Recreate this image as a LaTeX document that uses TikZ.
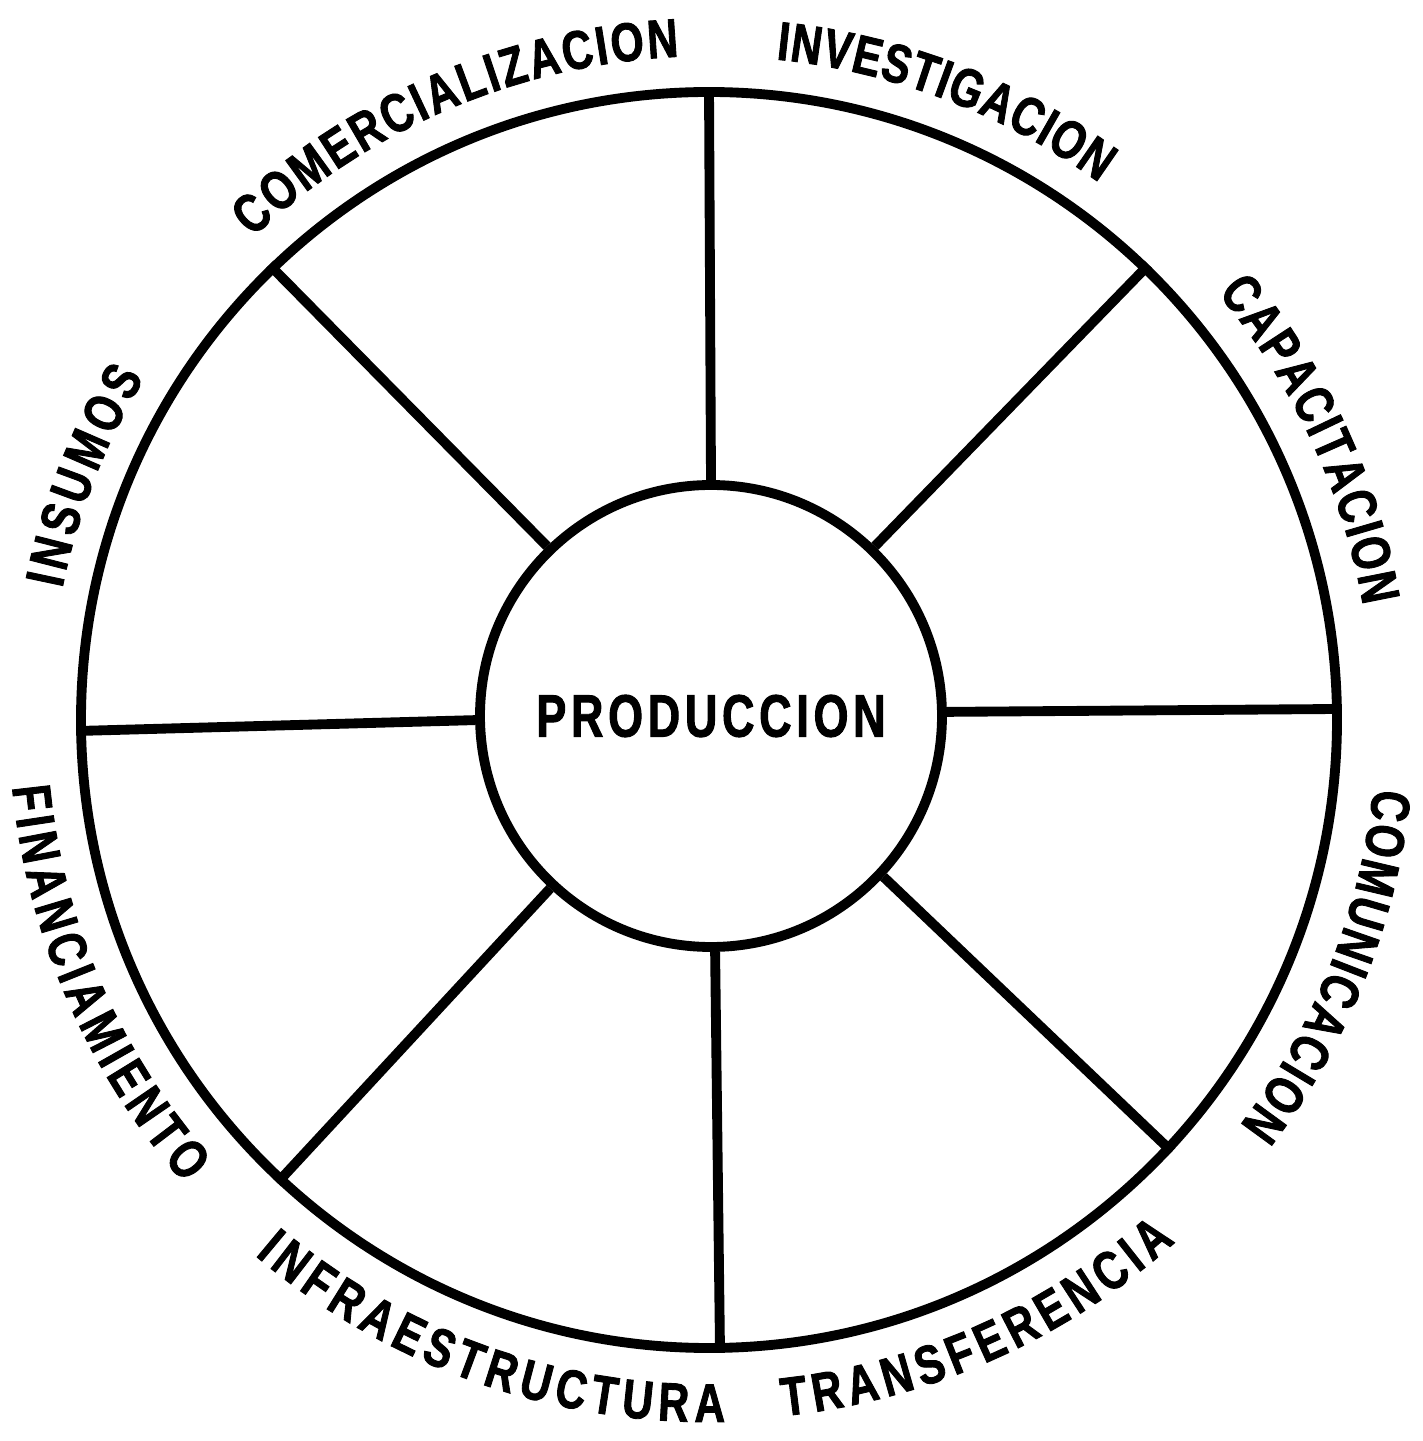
\documentclass[tikz,border=0pt]{standalone}
\usepackage{fontspec}
\usetikzlibrary{decorations.text}
\newfontfamily\etiqfont[FakeStretch=0.78,FakeBold=1.6]{Liberation Sans}
\newfontfamily\prodfont[FakeStretch=0.75,FakeBold=1.6,LetterSpace=8]{Liberation Sans}
\newcommand{\etiq}{\etiqfont\bfseries\fontsize{15.5pt}{18pt}\selectfont}

\begin{document}
\begin{tikzpicture}[linea/.style={line width=2.8pt},
    rueda/.style={circle, draw, linea, inner sep=0pt},
    rotulo/.style={decorate, decoration={text along path, text align={fit to path}, text={|\etiq|#1}}}]
    \useasboundingbox (-7.09,-7.21) rectangle (7.13,7.20);

    \node[rueda, minimum size=12.56cm] (aro) at (0,0) {};
    \node[rueda, minimum size=4.62cm, font=\prodfont\bfseries\fontsize{17pt}{20pt}\selectfont] (prod) at (0.02,0.04) {PRODUCCION};

    \foreach \a in {1,46.5,90,134,181,227,271,317}
        \draw[linea] (prod.\a) -- (aro.\a);

    \path[rotulo=COMERCIALIZACION] (133.4:6.64) arc[start angle=133.4, end angle=92.6, radius=6.64];
    \path[rotulo=INVESTIGACION] (84.2:6.64) arc[start angle=84.2, end angle=54, radius=6.64];
    \path[rotulo=CAPACITACION] (40:6.64) arc[start angle=40, end angle=9.9, radius=6.64];
    \path[rotulo=COMUNICACION] (-5.9:6.68) arc[start angle=-5.9, end angle=-37.4, radius=6.68];
    \path[rotulo=INSUMOS] (168.5:6.6) arc[start angle=168.5, end angle=148.8, radius=6.6];

    \path[rotulo=FINANCIAMIENTO] (185.5:7) arc[start angle=185.5, end angle=221.5, radius=7];
    \path[rotulo=INFRAESTRUCTURA] (229.7:7.02) arc[start angle=229.7, end angle=271.3, radius=7.02];
    \path[rotulo=TRANSFERENCIA] (-83.9:7) arc[start angle=-83.9, end angle=-48.2, radius=7];
\end{tikzpicture}
\end{document}
